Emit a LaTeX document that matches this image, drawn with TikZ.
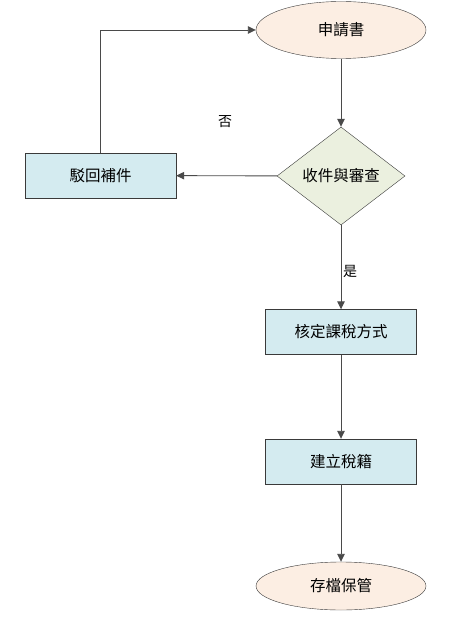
\documentclass[tikz,border=0pt]{standalone}
\usepackage{fontspec}
\setmainfont{Noto Sans CJK TC}
\usetikzlibrary{shapes.geometric,arrows.meta}
\definecolor{peach}{HTML}{FCEEE3}
\definecolor{lblue}{HTML}{D4EBF0}
\definecolor{lgreen}{HTML}{EBF0DF}
\definecolor{edge}{HTML}{3A3A3A}
\definecolor{conn}{HTML}{4A4A4A}
\begin{document}
\begin{tikzpicture}[x=1pt,y=-1pt,
  every node/.style={font=\fontsize{15.5}{17}\selectfont, text=black},
  terminal/.style={ellipse, draw=edge, fill=peach, minimum width=170pt, inner sep=0pt},
  procbox/.style={rectangle, draw=edge, fill=lblue, minimum width=151pt, minimum height=45pt, inner sep=0pt},
  decision/.style={diamond, draw=edge, fill=lgreen, minimum width=128pt, minimum height=98pt, inner sep=0pt, aspect=1.3},
  conn/.style={draw=conn, line width=0.9pt, -{Triangle[length=8pt,width=7.5pt]}},
  lbl/.style={font=\fontsize{14}{16}\selectfont}]
\useasboundingbox (0,0) rectangle (450,620);
\node[terminal, minimum height=57pt] (apply) at (341,30) {申請書};
\node[decision] (check) at (341,176) {收件與審查};
\node[procbox] (reject) at (100.5,175.5) {駁回補件};
\node[procbox] (assess) at (341,332) {核定課稅方式};
\node[procbox] (register) at (341,461.5) {建立稅籍};
\node[terminal, minimum height=48pt] (archive) at (341,586) {存檔保管};
\draw[conn] (apply) -- (check);
\draw[conn] (check) -- (reject);
\draw[conn] (reject.north) |- (apply.west);
\draw[conn] (check) -- (assess);
\draw[conn] (assess) -- (register);
\draw[conn] (register) -- (archive);
\node[lbl] (no) at (225,122) {否};
\node[lbl] (yes) at (350,271) {是};
\end{tikzpicture}
\end{document}
